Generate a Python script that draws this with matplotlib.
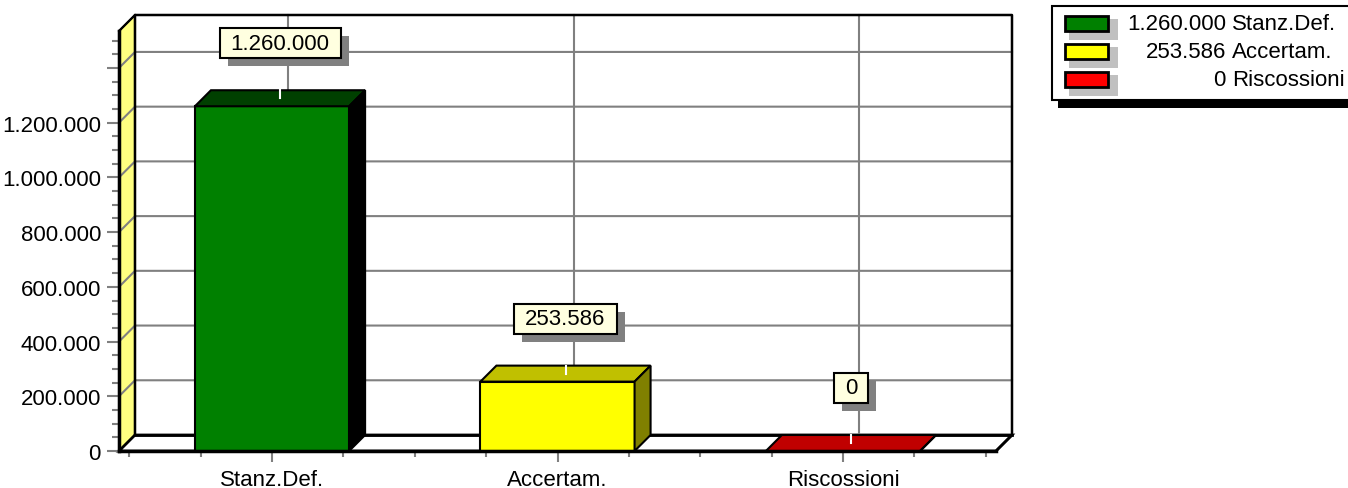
import matplotlib
matplotlib.use('Agg')
import matplotlib.pyplot as plt
from matplotlib.path import Path
from matplotlib.patches import Polygon, Rectangle
from matplotlib import patheffects as pe

# -----------------------------
# Data
# -----------------------------
categories = ['Stanz.Def.', 'Accertam.', 'Riscossioni']
values = [1260000, 253586, 0]
front_colors = ['#008000', '#FFFF00', '#FF0000']
top_colors = ['#004000', '#C0C000', '#C00000']
side_colors = ['#000000', '#808000', '#800000']

y_major = [0, 200000, 400000, 600000, 800000, 1000000, 1200000, 1400000]
y_labels = ['0', '200.000', '400.000', '600.000', '800.000', '1.000.000', '1.200.000', '']
y_minor = [v * 50000 for v in range(31)]
x_minor = [-0.5, -0.25, 0.25, 0.5, 0.75, 1.25, 1.5, 1.75, 2.25, 2.5]
y_max = 1535000


def fmt(v):
    return f'{v:,.0f}'.replace(',', '.')


plt.rcParams['font.family'] = ['Liberation Sans', 'DejaVu Sans']
FS = 16

W, H = 1348, 489
fig = plt.figure(figsize=(W / 100, H / 100), dpi=100)
ax = fig.add_axes([119 / W, 37 / H, 877 / W, 420 / H])
ax.set_xlim(-0.536, 2.536)
ax.set_ylim(0, y_max)
ax.patch.set_visible(False)

x0, x1 = ax.get_xlim()
# pixel -> data scale, depth of the pseudo-3D box = 16 px
sx = (x1 - x0) / ax.bbox.width
sy = y_max / ax.bbox.height
dx, dy = 16 * sx, 16 * sy
bar_w = 0.54

# ---- walls and floor ----
ax.add_patch(Polygon([(x0, 0), (x0 + dx, dy), (x0 + dx, y_max + dy), (x0, y_max)],
                     closed=True, fc='#FFFF80', ec='black', lw=1.5, clip_on=False, zorder=1))
ax.add_patch(Rectangle((x0 + dx, dy), x1 - x0, y_max, fc='white', ec='none',
                       clip_on=False, zorder=1))
ax.add_patch(Polygon([(x0, 0), (x1, 0), (x1 + dx, dy), (x0 + dx, dy)],
                     closed=True, fc='white', ec='black', lw=2, clip_on=False, zorder=1))

# ---- grid on walls ----
for v in y_major[1:]:
    ax.plot([x0, x0 + dx, x1 + dx], [v, v + dy, v + dy], color='#808080', lw=1.5,
            clip_on=False, zorder=2)
for i in range(len(categories)):
    ax.plot([i + dx, i + dx], [dy, y_max + dy], color='#808080', lw=1.5,
            clip_on=False, zorder=2)

# wall outlines on top of the grid
ax.plot([x0 + dx, x0 + dx, x1 + dx, x1 + dx, x1], [dy, y_max + dy, y_max + dy, dy, 0],
        color='black', lw=1.8, clip_on=False, zorder=2.5)
ax.plot([x0, x0 + dx, x0 + dx], [y_max, y_max + dy, y_max + dy], color='black', lw=1.5,
        clip_on=False, zorder=2.5)
ax.plot([x0 + dx, x1 + dx], [dy, dy], color='black', lw=2, clip_on=False, zorder=2.5)


# ---- label box style ----
def label_box(bx, by, bw, bh, mutation_size):
    padx = 11
    pady = (30 - bh) / 2
    l, r, b, t = bx - padx, bx + bw + padx, by - pady, by + bh + pady
    return Path([(l, b), (r, b), (r, t), (l, t), (l, b)], closed=True)


# ---- bars ----
for i, (v, fc, tc, sc) in enumerate(zip(values, front_colors, top_colors, side_colors)):
    l, r = i - bar_w / 2, i + bar_w / 2
    ax.add_patch(Rectangle((l, 0), bar_w, v, fc=fc, ec='black', lw=1.5,
                           clip_on=False, zorder=3))
    ax.add_patch(Polygon([(l, v), (r, v), (r + dx, v + dy), (l + dx, v + dy)], closed=True,
                         fc=tc, ec='black', lw=1.5, clip_on=False, zorder=3))
    ax.add_patch(Polygon([(r, 0), (r + dx, dy), (r + dx, v + dy), (r, v)], closed=True,
                         fc=sc, ec='black', lw=1.5, clip_on=False, zorder=3))
    ax.plot([i + dx / 2, i + dx / 2], [v + dy / 2, v + dy], color='white', lw=1.5,
            clip_on=False, zorder=4)
    t = ax.text(i + dx / 2, v + dy + 47 * sy, fmt(v), ha='center', va='center',
                fontsize=FS, zorder=6,
                bbox=dict(boxstyle=label_box, fc='#FFFFE0', ec='black', lw=1.5))
    t.get_bbox_patch().set_path_effects([
        pe.SimplePatchShadow(offset=(5.8, -5.8), shadow_rgbFace='#808080', alpha=1.0),
        pe.Normal()])

# ---- axes ----
for s in ['top', 'right']:
    ax.spines[s].set_visible(False)
for s in ['left', 'bottom']:
    ax.spines[s].set_linewidth(2.5)
    ax.spines[s].set_zorder(5)

ax.set_yticks(y_major, labels=y_labels)
ax.set_yticks(y_minor, minor=True)
ax.set_xticks(range(len(categories)), labels=categories)
ax.set_xticks(x_minor, minor=True)
ax.tick_params(axis='both', which='both', color='#808080', width=1.5, labelsize=FS)
ax.tick_params(axis='y', which='major', length=9, pad=4)
ax.tick_params(axis='y', which='minor', length=5)
ax.tick_params(axis='x', which='major', length=8, pad=5)
ax.tick_params(axis='x', which='minor', length=4)

# ---- legend (pixel coordinates) ----
lax = fig.add_axes([0, 0, 1, 1], zorder=10)
lax.set_xlim(0, W)
lax.set_ylim(H, 0)
lax.axis('off')
lax.add_patch(Rectangle((1058, 101), 300, 8, fc='black', ec='none', clip_on=False))
lax.add_patch(Rectangle((1052, 7), 300, 94, fc='white', ec='black', lw=1.5, clip_on=False))
legend_top = [17, 45, 73]
for v, name, c, yt in zip(values, categories, front_colors, legend_top):
    lax.add_patch(Rectangle((1069, yt + 3), 49, 21, fc='#C0C0C0', ec='none'))
    lax.add_patch(Rectangle((1065, yt), 43, 15, fc=c, ec='black', lw=2))
    lax.text(1226, yt + 7.5, fmt(v), ha='right', va='center', fontsize=FS)
    lax.text(1232, yt + 7.5, name, ha='left', va='center', fontsize=FS)

fig.savefig('out.png', dpi=100)
